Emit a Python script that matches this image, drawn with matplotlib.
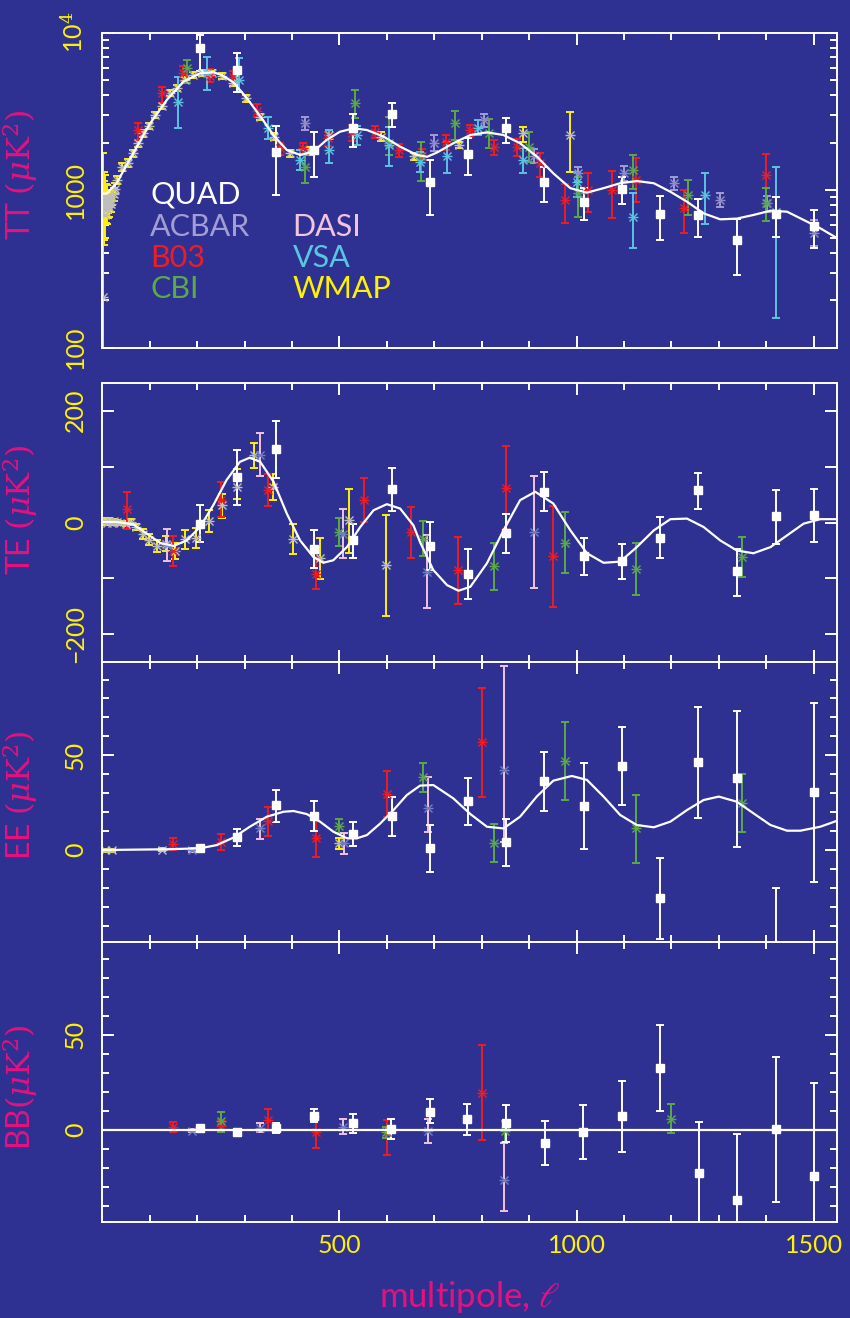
import matplotlib.pyplot as plt
import numpy as np

plt.rcParams.update({
    'font.family': ['Lato', 'DejaVu Sans'],
    'font.weight': 'normal',
    'mathtext.fontset': 'dejavuserif',
    'axes.linewidth': 1.4,
})

BG = '#2E3192'
TICK_YELLOW = '#FFF200'
LABEL_MAGENTA = '#E6117F'

colors = {
    'QUAD': '#FFFFFF',
    'ACBAR': '#A29DD3',
    'B03': '#EE1C25',
    'CBI': '#5BAA46',
    'DASI': '#F3C4DE',
    'VSA': '#5BC4E0',
    'WMAP': '#FFF200',
}
marker_colors = {
    'ACBAR': '#8E8BC8',
    'B03': '#EE1C25',
    'CBI': '#5BAA46',
    'DASI': '#6F7FC6',
    'VSA': '#5BC4E0',
    'WMAP': '#BDBDBD',
}

# ---- best-fit model spectra ----
tt_model_ell = [2, 10, 30, 65, 101, 136, 171, 206, 234, 252, 276, 303, 333, 361, 389, 417,
                445, 473, 501, 530, 558, 593, 628, 663, 685, 705, 740, 776, 811, 846, 881,
                916, 951, 987, 1022, 1057, 1092, 1127, 1163, 1198, 1233, 1268, 1303, 1338,
                1373, 1409, 1444, 1479, 1514, 1550]
tt_model = [950, 955, 1107, 1714, 2660, 3740, 4890, 5520, 5610, 5380, 4850, 3900, 2950, 2230,
            1800, 1675, 1760, 2085, 2350, 2470, 2410, 2190, 1890, 1675, 1630, 1730, 1985, 2240,
            2330, 2240, 1985, 1640, 1280, 1030, 965, 1030, 1107, 1143, 1107, 977, 845, 713, 653,
            660, 696, 741, 730, 647, 573, 495]

te_model_ell = [0, 30, 65, 94, 122, 150, 178, 206, 234, 262, 290, 311, 333, 361, 389, 417, 445,
                466, 487, 516, 544, 572, 600, 628, 656, 670, 684, 698, 727, 751, 776, 811, 846,
                881, 913, 951, 987, 1022, 1057, 1092, 1127, 1163, 1198, 1233, 1268, 1303, 1338,
                1373, 1409, 1444, 1479, 1514, 1550]
te_model = [1, 1, -3, -20, -36.5, -42, -32, -8, 31, 76, 108.5, 116, 108.5, 73, 16, -32, -61.6,
            -72, -67.5, -43.7, -7.9, 22, 32.8, 25, -5, -35, -60, -85, -112, -122, -115, -73, -14,
            40, 55, 34, -14, -55, -72, -70, -44, -14, 6, 7, -8, -32, -50, -55, -44, -23, -2, 6, 6]

ee_model_ell = [0, 136, 206, 241, 276, 311, 347, 382, 403, 431, 459, 487, 516, 537, 558, 586,
                614, 642, 670, 698, 740, 776, 811, 846, 881, 916, 951, 990, 1022, 1057, 1092,
                1127, 1163, 1198, 1233, 1268, 1300, 1338, 1373, 1409, 1444, 1472, 1514, 1550]
ee_model = [0, 0.4, 0.9, 2.6, 6.5, 12.3, 17.6, 20.2, 20.6, 19, 15, 9.7, 6.2, 6.2, 7.9, 14, 21.1,
            29, 34, 34.3, 27.3, 19, 12.3, 11.4, 17.6, 28.2, 36.6, 39.1, 37, 28.2, 18.5, 13.2, 12,
            15, 21.1, 26.4, 28.2, 25.5, 19.4, 13.2, 10.2, 10.2, 12.3, 15.5]

bb_model_ell = [0, 1550]
bb_model = [0, 0]

# ---- band powers: (ell, value, bar bottom, bar top) ----
quad_tt = [(205, 7960, 5700, 9700), (285, 5790, 4220, 7390), (367, 1742, 933, 2560),
           (447, 1800, 1220, 2350), (528, 2470, 1870, 3030), (611, 3050, 2530, 3560),
           (690, 1122, 696, 1556), (772, 1690, 1250, 2135), (852, 2470, 2005, 2885),
           (932, 1122, 845, 1410), (1015, 841, 647, 1030), (1095, 1018, 817, 1220),
           (1177, 703, 483, 923), (1257, 696, 507, 880), (1338, 481, 290, 653),
           (1420, 703, 507, 910), (1500, 593, 431, 748)]
acbar_tt = [(428, 2660, 2410, 2920), (700, 2005, 1770, 2240), (804, 2790, 2530, 3030),
            (911, 1650, 1480, 1830), (1003, 1280, 1130, 1410), (1101, 1290, 1150, 1420),
            (1205, 1107, 1000, 1220), (1303, 867, 785, 965), (1402, 826, 730, 920),
            (1500, 532, 440, 647)]
b03_tt = [(76, 2410, 2085, 2660), (125, 4120, 3560, 4540), (171, 5520, 4900, 6100),
          (227, 5310, 4850, 5900), (276, 5210, 4700, 5700), (326, 3200, 2900, 3500),
          (375, 1845, 1675, 1985), (424, 1845, 1675, 2000), (475, 2135, 1900, 2350),
          (526, 2320, 2050, 2600), (575, 2350, 2150, 2560), (625, 1800, 1620, 1970),
          (674, 1650, 1480, 1830), (725, 2030, 1800, 2240), (776, 2410, 2190, 2610),
          (825, 1890, 1675, 2070), (874, 1890, 1650, 2100), (923, 1482, 1220, 1714),
          (975, 867, 615, 1090), (1025, 1000, 730, 1280), (1075, 1000, 670, 1320),
          (1126, 1160, 845, 1590), (1226, 767, 533, 1000), (1400, 1250, 1030, 1690)]
cbi_tt = [(179, 5940, 4780, 6680), (428, 1410, 1110, 1675), (533, 3560, 2860, 4330),
          (604, 2000, 1675, 2920), (672, 1640, 1140, 2010), (743, 2660, 2085, 3190),
          (816, 2297, 1860, 2840), (899, 1890, 1520, 2350), (1004, 954, 680, 1220),
          (1120, 1346, 1015, 1675), (1235, 933, 696, 1160), (1400, 826, 635, 1030)]
vsa_tt = [(160, 3650, 2470, 5260), (220, 5520, 4320, 7030), (289, 5000, 4220, 6900),
          (350, 2470, 2100, 2920), (416, 1555, 1345, 1800), (479, 1800, 1480, 2410),
          (537, 2240, 1935, 2560), (605, 1950, 1420, 2525), (670, 1517, 1310, 1760),
          (727, 1640, 1280, 2030), (793, 2470, 2240, 2770), (888, 1555, 1280, 1850),
          (1001, 1125, 910, 1310), (1119, 680, 428, 954), (1271, 933, 610, 1290),
          (1420, 730, 155, 1410)]
wmap_tt = [(2, 210, 5, 1715), (3, 820, 450, 1300), (4, 760, 480, 1150), (5, 900, 620, 1250),
           (6, 700, 500, 950), (7, 820, 620, 1080), (8, 880, 690, 1100), (9, 760, 610, 940),
           (10, 900, 740, 1080), (11, 800, 670, 950), (12, 850, 720, 990), (14, 780, 680, 900),
           (16, 880, 780, 990), (18, 820, 730, 920), (21, 900, 810, 1000), (24, 950, 860, 1040),
           (27, 1020, 940, 1110), (30, 1160, 1090, 1230), (41, 1410, 1330, 1490),
           (55, 1482, 1400, 1570), (65, 1714, 1630, 1800), (76, 1985, 1890, 2080),
           (86, 2297, 2190, 2400), (99, 2560, 2440, 2680), (111, 3000, 2860, 3140),
           (125, 3430, 3280, 3590), (143, 4120, 3940, 4300), (157, 4440, 4250, 4640),
           (174, 5010, 4790, 5240), (192, 5380, 5150, 5620), (210, 5570, 5330, 5820),
           (231, 5570, 5330, 5820), (252, 5310, 5070, 5550), (276, 4780, 4560, 5000),
           (303, 3830, 3650, 4010), (333, 2905, 2770, 3040), (363, 2190, 2080, 2300),
           (396, 1714, 1620, 1810), (435, 1780, 1670, 1890), (479, 2240, 2100, 2380),
           (588, 2190, 2040, 2340), (658, 1650, 1555, 1730), (753, 1935, 1850, 2030),
           (888, 2297, 2030, 2510), (987, 2240, 1310, 3125)]

quad_te = [(205, -1.8, -34.7, 31), (285, 81.6, 31, 129.5), (367, 130.7, 80, 181),
           (447, -46.6, -81, -12.5), (528, -31.7, -62.7, -3), (611, 59.6, 20, 97.8),
           (690, -42.4, -85.4, 1), (772, -92.6, -136.8, -48), (852, -18, -53.7, 16),
           (932, 54.8, 20.8, 90.6), (1015, -60.3, -94.4, -26.9), (1095, -69.3, -101.5, -37.6),
           (1177, -26.9, -63.4, 9), (1257, 57.8, 24.4, 88.8), (1338, -87.2, -132, -46.6),
           (1420, 11.3, -38.9, 59), (1500, 13, -35, 60)]
wmap_te = [(5, 2, -4, 8), (10, 0, -5, 5), (15, 3, -2, 8), (20, 0, -4, 4), (25, 2, -2, 6),
           (30, 1, -3, 5), (37, -1, -5, 3), (50, -2, -6, 2), (61, 1, -4, 6), (71, -8, -13, -3),
           (85, -21, -30, -12), (99, -30.5, -40, -20), (116, -42, -53, -31),
           (134, -37.6, -51, -24), (153, -51, -65, -37), (174, -30, -47, -13),
           (197, -27, -45, -9), (224, 3, -17, 23), (252, 31, 8, 51), (285, 64, 42, 96),
           (319, 120, 98, 142), (359, 64, 40, 86), (403, -30, -57, -3), (458, -64, -101, -27),
           (520, 4, -54, 60), (599, -76, -168, 13)]
b03_te = [(51, 23.3, -10.7, 53.7), (150, -51.4, -78, -24), (250, 40, 9, 71.6),
          (349, 57.8, 29.7, 86), (451, -91.3, -119.4, -61.6), (551, 40, 1, 78.8),
          (651, -16.8, -63.4, 26.9), (750, -85.4, -146.3, -25.8), (851, 62, -12, 136.6),
          (950, -60.3, -151, 29)]
cbi_te = [(500, -16.8, -42.4, 8), (676, -28.7, -60, 3), (826, -77.7, -120, -35.8),
          (975, -35.8, -89.5, 18), (1126, -83.6, -129, -36.5), (1350, -61.6, -97.4, -25.8)]
dasi_te = [(136, -40.6, -69.3, -12), (333, 120.5, 83, 160), (508, -19.7, -62.7, 23.3),
           (684, -88.5, -153, -22.7), (911, -16.8, -118, 83)]

quad_ee = [(205, 0.9, 0, 1.8), (285, 6.7, 2.3, 11), (367, 23.8, 14.6, 31.8),
           (447, 18.1, 10.2, 26), (528, 8.4, 2.1, 15), (611, 18, 7.6, 27.8),
           (690, 0.9, -11.5, 13.2), (772, 25.7, 13.2, 37.9), (852, 4, -8.3, 16.4),
           (932, 36.3, 20.6, 51.9), (1015, 23, 0.5, 45.8), (1095, 44.2, 23.8, 65.1),
           (1177, -25.5, -47, -4.2), (1257, 46.3, 16.7, 75.3), (1338, 37.9, 1.7, 73.5),
           (1420, -75, -130, -19.9), (1500, 30.5, -16.7, 77.8)]
wmap_ee = [(5, 0, -0.8, 0.8), (20, 0, -0.8, 0.8), (125, 0.2, -0.6, 1), (500, 3.5, 0.5, 6.2)]
b03_ee = [(150, 3, 0, 6.2), (250, 4.4, 0, 8.4), (349, 15.3, 7.6, 22.5), (451, 6.2, -3.5, 15.5),
          (600, 29.6, 17.3, 41.7), (800, 57.2, 28.1, 85.7)]
cbi_ee = [(500, 12.8, 8.8, 16.4), (676, 38.4, 30.5, 46.1), (825, 3.5, -6.5, 13.6),
          (975, 47.2, 26.4, 67.7), (1126, 11.4, -6.7, 29), (1350, 24.6, 9.5, 40.1)]
dasi_ee = [(189, 0, -1.2, 1.2), (333, 11.4, 5.8, 16.4), (509, 3.5, -2.3, 8.8),
           (687, 22, 9.7, 38.7), (846, 42.2, 4.4, 97)]

quad_bb = [(205, 0.9, -0.6, 2.4), (285, -1.2, -2.7, 0.3), (366, 0.9, -1.7, 3.5),
           (447, 7.5, 4, 10.9), (528, 3.5, -1.8, 8.2), (608, 0.4, -4.9, 5.8),
           (690, 9.6, 3.5, 16.3), (770, 5.6, -2.6, 13.7), (852, 3.5, -6.5, 13.2),
           (933, -7, -18.4, 4.4), (1013, -1.4, -15.3, 13.2), (1096, 7.4, -11.6, 25.9),
           (1175, 32.5, 10, 55.3), (1258, -22.8, -50, 3.9), (1338, -36.8, -72, -2.1),
           (1420, 0.5, -37.9, 38.3), (1500, -24.2, -73, 24.9)]
b03_bb = [(150, 1.4, -1.4, 3.9), (250, 2, -1, 5), (349, 5.3, -0.5, 11), (451, -1.4, -9.6, 6.7),
          (600, -0.9, -13.5, 5.3), (800, 19.6, -5.6, 44.7)]
cbi_bb = [(250, 4.4, -1.4, 9.3), (599, -1.4, -4.4, 1.6), (849, -0.5, -6.2, 4.7),
          (1200, 5.8, -1.7, 13.7)]
dasi_bb = [(189, -0.4, -1.2, 0.4), (333, 1.2, -1.2, 3.5), (508, 1.7, -2.1, 5.6),
           (687, -0.6, -7, 5.8), (846, -26.7, -43, -7)]


def draw_points(ax, pts, name):
    ell, val, lo, hi = np.array(pts, dtype=float).T
    ax.errorbar(ell, val, yerr=[val - lo, hi - val], fmt='none', ecolor=colors[name],
                elinewidth=1.4, capsize=2.8, capthick=1.4, zorder=2)
    if name == 'QUAD':
        ax.plot(ell, val, ls='none', marker='s', ms=6, color='white', zorder=4)
    else:
        mc = marker_colors[name]
        ax.plot(ell, val, ls='none', marker='x', ms=6, mew=1.0, color=mc, zorder=2.2)
        ax.plot(ell, val, ls='none', marker='_', ms=7, mew=1.0, color=mc, zorder=2.2)


def style_axes(ax):
    ax.set_facecolor(BG)
    for sp in ax.spines.values():
        sp.set_color('white')
        sp.set_linewidth(1.4)
    ax.set_xlim(0, 1550)
    ax.set_xticks([500, 1000, 1500])
    ax.set_xticks(np.arange(100, 1550, 100), minor=True)
    ax.tick_params(which='both', direction='in', top=True, right=True, color='white',
                   labelcolor=TICK_YELLOW, labelsize=18, width=1.4)
    ax.tick_params(which='major', length=8.5)
    ax.tick_params(which='minor', length=5)
    ax.tick_params(axis='y', pad=11)
    ax.tick_params(axis='x', pad=9)


fig = plt.figure(figsize=(8.5, 13.18), dpi=100, facecolor=BG)
left, width = 0.1204, 0.8647
ax_tt = fig.add_axes([left, 0.7362, width, 0.2390])
ax_te = fig.add_axes([left, 0.4975, width, 0.2121])
ax_ee = fig.add_axes([left, 0.2855, width, 0.2120])
ax_bb = fig.add_axes([left, 0.0731, width, 0.2124])

panels = [
    (ax_tt, 'TT', (tt_model_ell, tt_model),
     [('WMAP', wmap_tt), ('ACBAR', acbar_tt), ('B03', b03_tt), ('CBI', cbi_tt),
      ('VSA', vsa_tt), ('QUAD', quad_tt)]),
    (ax_te, 'TE', (te_model_ell, te_model),
     [('WMAP', wmap_te), ('B03', b03_te), ('CBI', cbi_te), ('DASI', dasi_te),
      ('QUAD', quad_te)]),
    (ax_ee, 'EE', (ee_model_ell, ee_model),
     [('WMAP', wmap_ee), ('B03', b03_ee), ('CBI', cbi_ee), ('DASI', dasi_ee),
      ('QUAD', quad_ee)]),
    (ax_bb, 'BB', (bb_model_ell, bb_model),
     [('B03', b03_bb), ('CBI', cbi_bb), ('DASI', dasi_bb), ('QUAD', quad_bb)]),
]

for ax, spec, (m_ell, m_val), sets in panels:
    style_axes(ax)
    for name, pts in sets:
        if name != 'QUAD':
            draw_points(ax, pts, name)
    ax.plot(m_ell, m_val, color='white', lw=1.6, zorder=3)
    for name, pts in sets:
        if name == 'QUAD':
            draw_points(ax, pts, name)

# TT: logarithmic axis
ax_tt.set_yscale('log')
ax_tt.set_ylim(100, 10000)
ax_tt.set_yticks([100, 1000, 10000])
ax_tt.set_yticklabels(['100', '1000', r'10$^4$'])
ax_tt.set_yticks([v * d for d in (100, 1000) for v in range(2, 10)], minor=True)
ax_tt.set_yticklabels([], minor=True)

ax_te.set_ylim(-250, 250)
ax_te.set_yticks([-200, -100, 0, 100, 200])
ax_te.set_yticklabels(['\u2212200', '', '0', '', '200'])

for ax in (ax_ee, ax_bb):
    ax.set_ylim(-48.4, 99.1)
    ax.set_yticks([0, 50])
    ax.set_yticklabels(['0', '50'])
    ax.set_yticks(np.arange(-40, 100, 10), minor=True)

for ax in (ax_tt, ax_te, ax_ee):
    ax.tick_params(axis='x', labelbottom=False)

for ax in (ax_tt, ax_te, ax_ee, ax_bb):
    for lab in ax.get_yticklabels():
        lab.set_rotation(90)
        lab.set_va('center')

ylabels = [(ax_tt, r'TT $(\mu\mathrm{K}^2)$', 0.548), (ax_te, r'TE $(\mu\mathrm{K}^2)$', 0.545),
           (ax_ee, r'EE $(\mu\mathrm{K}^2)$', 0.524), (ax_bb, r'BB$(\mu\mathrm{K}^2)$', 0.482)]
for ax, text, ypos in ylabels:
    ax.set_ylabel(text, color=LABEL_MAGENTA, fontsize=23)
    ax.yaxis.set_label_coords(-0.085, ypos)

fig.text(0.553, 0.0159, r'multipole, $\ell$', color=LABEL_MAGENTA, fontsize=25,
         ha='center', va='center')

# experiment key
key = [('QUAD', 0.065, 0.485), ('ACBAR', 0.065, 0.383), ('B03', 0.065, 0.285),
       ('CBI', 0.065, 0.185), ('DASI', 0.259, 0.383), ('VSA', 0.259, 0.285),
       ('WMAP', 0.259, 0.185)]
for name, kx, ky in key:
    ax_tt.text(kx, ky, name, transform=ax_tt.transAxes, color=colors[name], fontsize=22,
               ha='left', va='center')

fig.savefig('out.png', dpi=100, facecolor=BG)
